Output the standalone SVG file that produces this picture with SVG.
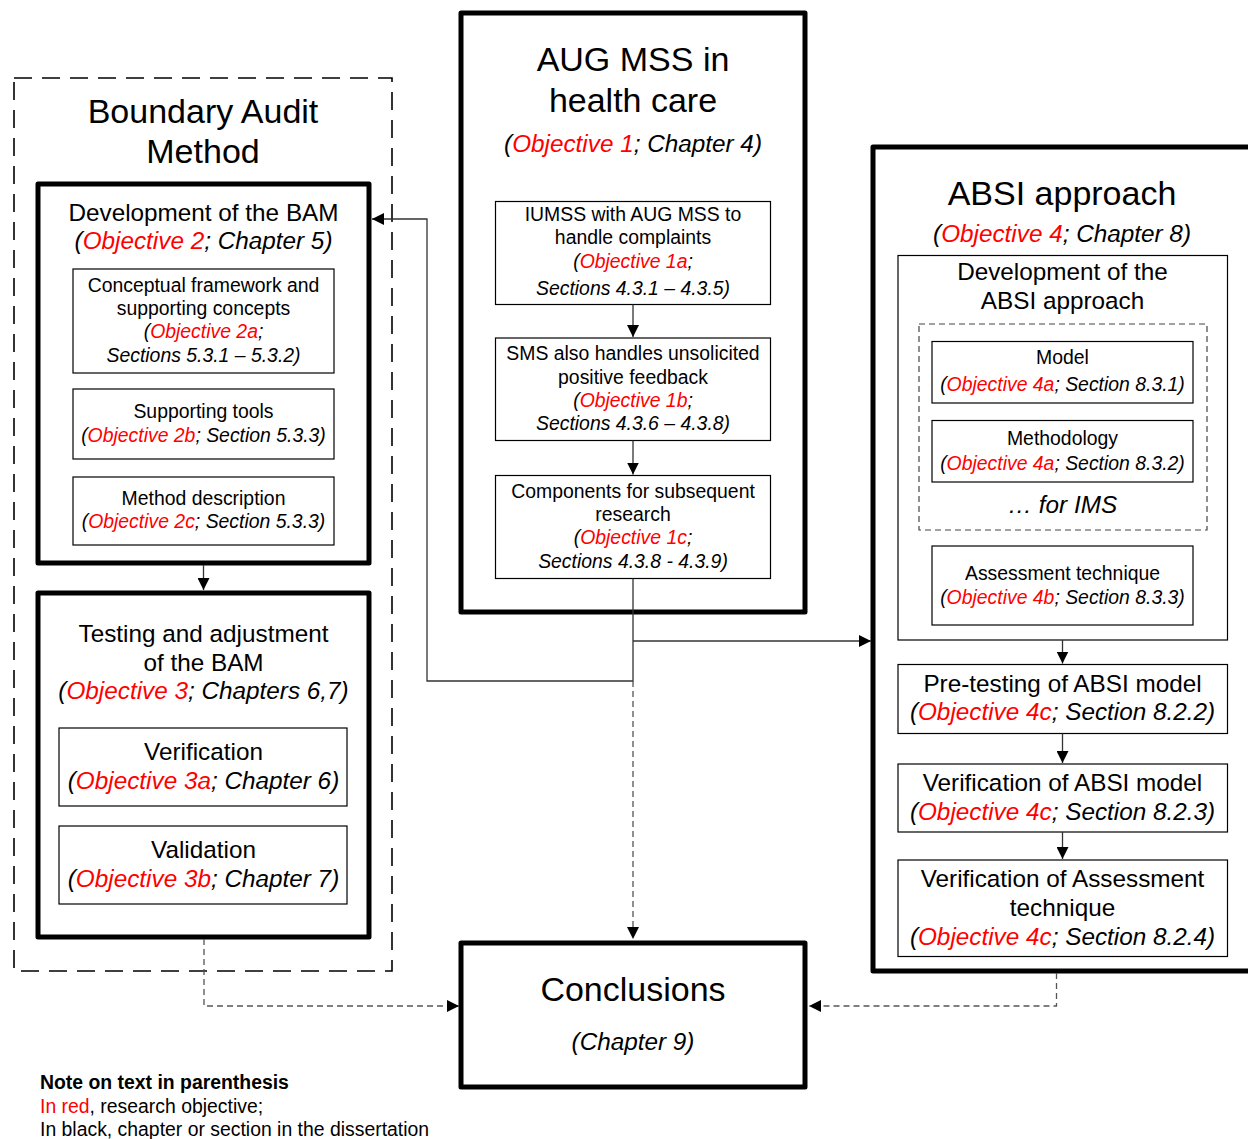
<svg xmlns="http://www.w3.org/2000/svg" width="1248" height="1139" viewBox="0 0 1248 1139">
  <defs>
    <marker id="arrow" viewBox="0 0 10 10" refX="10" refY="5" markerWidth="12" markerHeight="12" markerUnits="userSpaceOnUse" orient="auto">
      <path d="M0,0 L10,5 L0,10 Z" fill="#000"/>
    </marker>
    <style>
      text { font-family: "Liberation Sans", Arial, sans-serif; fill: #000; text-anchor: middle; }
      .big { font-size: 34px; }
      .mid { font-size: 24.3px; }
      .sm { font-size: 19.4px; }
      .it { font-style: italic; }
      .red { fill: #ff0000; }
      .thick { fill: #fff; stroke: #000; stroke-width: 5; stroke-linejoin: round; }
      .thin { fill: #fff; stroke: #000; stroke-width: 1.2; }
      .group { fill: none; stroke: #000; stroke-width: 1.6; stroke-dasharray: 18 10; }
      .subgroup { fill: none; stroke: #444; stroke-width: 1.2; stroke-dasharray: 6 4; }
      .link { fill: none; stroke: #333; stroke-width: 1.3; }
      .dlink { fill: none; stroke: #555; stroke-width: 1.3; stroke-dasharray: 6 4; }
      .note { text-anchor: start; font-size: 19.4px; }
    </style>
  </defs>

  <!-- Boundary Audit Method group -->
  <g id="bam-group">
    <rect class="group" x="14" y="78" width="378" height="893"/>
    <text class="big" x="203" y="123">Boundary Audit</text>
    <text class="big" x="203" y="163">Method</text>
  </g>

  <g id="bam-development">
    <rect class="thick" x="38" y="184" width="331" height="379"/>
    <text class="mid" x="203.5" y="221">Development of the BAM</text>
    <text class="mid it" x="203.5" y="249">(<tspan class="red">Objective 2</tspan>; Chapter 5)</text>
  </g>
  <g id="bam-concepts">
    <rect class="thin" x="73" y="269" width="261" height="104"/>
    <text class="sm" x="203.5" y="292">Conceptual framework and</text>
    <text class="sm" x="203.5" y="315">supporting concepts</text>
    <text class="sm it" x="203.5" y="338">(<tspan class="red">Objective 2a</tspan>;</text>
    <text class="sm it" x="203.5" y="361.5">Sections 5.3.1 – 5.3.2)</text>
  </g>
  <g id="bam-tools">
    <rect class="thin" x="73" y="389" width="261" height="70"/>
    <text class="sm" x="203.5" y="418">Supporting tools</text>
    <text class="sm it" x="203.5" y="442">(<tspan class="red">Objective 2b</tspan>; Section 5.3.3)</text>
  </g>
  <g id="bam-method">
    <rect class="thin" x="73" y="477" width="261" height="68"/>
    <text class="sm" x="203.5" y="505">Method description</text>
    <text class="sm it" x="203.5" y="528">(<tspan class="red">Objective 2c</tspan>; Section 5.3.3)</text>
  </g>

  <g id="bam-testing">
    <rect class="thick" x="38" y="593" width="331" height="344"/>
    <text class="mid" x="203.5" y="642">Testing and adjustment</text>
    <text class="mid" x="203.5" y="671">of the BAM</text>
    <text class="mid it" x="203.5" y="699">(<tspan class="red">Objective 3</tspan>; Chapters 6,7)</text>
  </g>
  <g id="bam-verification">
    <rect class="thin" x="59" y="728" width="288" height="78"/>
    <text class="mid" x="203.5" y="760">Verification</text>
    <text class="mid it" x="203.5" y="789">(<tspan class="red">Objective 3a</tspan>; Chapter 6)</text>
  </g>
  <g id="bam-validation">
    <rect class="thin" x="59" y="826" width="288" height="78"/>
    <text class="mid" x="203.5" y="858">Validation</text>
    <text class="mid it" x="203.5" y="887">(<tspan class="red">Objective 3b</tspan>; Chapter 7)</text>
  </g>

  <!-- AUG MSS in health care -->
  <g id="aug-mss">
    <rect class="thick" x="461" y="13" width="344" height="599"/>
    <text class="big" x="633" y="71">AUG MSS in</text>
    <text class="big" x="633" y="112">health care</text>
    <text class="mid it" x="633" y="151.5">(<tspan class="red">Objective 1</tspan>; Chapter 4)</text>
  </g>
  <g id="iumss">
    <rect class="thin" x="495.5" y="201.5" width="275" height="103"/>
    <text class="sm" x="633" y="221">IUMSS with AUG MSS to</text>
    <text class="sm" x="633" y="244">handle complaints</text>
    <text class="sm it" x="633" y="268">(<tspan class="red">Objective 1a</tspan>;</text>
    <text class="sm it" x="633" y="294.5">Sections 4.3.1 – 4.3.5)</text>
  </g>
  <g id="sms">
    <rect class="thin" x="495.5" y="338" width="275" height="102.5"/>
    <text class="sm" x="633" y="360">SMS also handles unsolicited</text>
    <text class="sm" x="633" y="384">positive feedback</text>
    <text class="sm it" x="633" y="407">(<tspan class="red">Objective 1b</tspan>;</text>
    <text class="sm it" x="633" y="430">Sections 4.3.6 – 4.3.8)</text>
  </g>
  <g id="components">
    <rect class="thin" x="495.5" y="475.5" width="275" height="103"/>
    <text class="sm" x="633" y="498">Components for subsequent</text>
    <text class="sm" x="633" y="521">research</text>
    <text class="sm it" x="633" y="544">(<tspan class="red">Objective 1c</tspan>;</text>
    <text class="sm it" x="633" y="568">Sections 4.3.8 - 4.3.9)</text>
  </g>

  <!-- ABSI approach -->
  <g id="absi">
    <rect class="thick" x="873" y="147" width="400" height="824"/>
    <text class="big" x="1062" y="205">ABSI approach</text>
    <text class="mid it" x="1062" y="241.5">(<tspan class="red">Objective 4</tspan>; Chapter 8)</text>
  </g>
  <g id="absi-development">
    <rect class="thin" x="898" y="255.5" width="329.5" height="384.5"/>
    <text class="mid" x="1062.5" y="280">Development of the</text>
    <text class="mid" x="1062.5" y="309">ABSI approach</text>
    <rect class="subgroup" x="919" y="324" width="288" height="206"/>
    <text class="mid it" x="1062.5" y="513">… for IMS</text>
  </g>
  <g id="absi-model">
    <rect class="thin" x="932" y="341.5" width="261" height="61.5"/>
    <text class="sm" x="1062.5" y="364">Model</text>
    <text class="sm it" x="1062.5" y="390.5">(<tspan class="red">Objective 4a</tspan>; Section 8.3.1)</text>
  </g>
  <g id="absi-methodology">
    <rect class="thin" x="932" y="420.5" width="261" height="61.5"/>
    <text class="sm" x="1062.5" y="445">Methodology</text>
    <text class="sm it" x="1062.5" y="470">(<tspan class="red">Objective 4a</tspan>; Section 8.3.2)</text>
  </g>
  <g id="absi-assessment">
    <rect class="thin" x="932" y="546" width="261" height="79"/>
    <text class="sm" x="1062.5" y="580">Assessment technique</text>
    <text class="sm it" x="1062.5" y="603.5">(<tspan class="red">Objective 4b</tspan>; Section 8.3.3)</text>
  </g>
  <g id="absi-pretesting">
    <rect class="thin" x="898" y="664.5" width="329.5" height="69"/>
    <text class="mid" x="1062.5" y="691.5">Pre-testing of ABSI model</text>
    <text class="mid it" x="1062.5" y="720">(<tspan class="red">Objective 4c</tspan>; Section 8.2.2)</text>
  </g>
  <g id="absi-verification-model">
    <rect class="thin" x="898" y="764" width="329.5" height="68"/>
    <text class="mid" x="1062.5" y="790.5">Verification of ABSI model</text>
    <text class="mid it" x="1062.5" y="820">(<tspan class="red">Objective 4c</tspan>; Section 8.2.3)</text>
  </g>
  <g id="absi-verification-assessment">
    <rect class="thin" x="898" y="860" width="329.5" height="96.5"/>
    <text class="mid" x="1062.5" y="886.5">Verification of Assessment</text>
    <text class="mid" x="1062.5" y="916">technique</text>
    <text class="mid it" x="1062.5" y="945">(<tspan class="red">Objective 4c</tspan>; Section 8.2.4)</text>
  </g>

  <!-- Conclusions -->
  <g id="conclusions">
    <rect class="thick" x="461" y="943" width="344" height="144"/>
    <text x="633" y="1001" style="font-size:34px">Conclusions</text>
    <text class="mid it" x="633" y="1050">(Chapter 9)</text>
  </g>

  <!-- Connectors -->
  <g id="connectors">
    <line class="link" x1="203.5" y1="565" x2="203.5" y2="590" marker-end="url(#arrow)"/>
    <line class="link" x1="633" y1="304.5" x2="633" y2="337" marker-end="url(#arrow)"/>
    <line class="link" x1="633" y1="440.5" x2="633" y2="474.5" marker-end="url(#arrow)"/>
    <polyline class="link" points="633,578.5 633,681 427,681 427,219 372,219" marker-end="url(#arrow)"/>
    <polyline class="link" points="633,641 871,641" marker-end="url(#arrow)"/>
    <line class="dlink" x1="633" y1="681" x2="633" y2="939" marker-end="url(#arrow)"/>
    <line class="link" x1="1062.5" y1="640" x2="1062.5" y2="663.5" marker-end="url(#arrow)"/>
    <line class="link" x1="1062.5" y1="733.5" x2="1062.5" y2="763" marker-end="url(#arrow)"/>
    <line class="link" x1="1062.5" y1="832" x2="1062.5" y2="859" marker-end="url(#arrow)"/>
    <polyline class="dlink" points="204,939 204,1006 459,1006" marker-end="url(#arrow)"/>
    <polyline class="dlink" points="1056.5,973 1056.5,1006 809,1006" marker-end="url(#arrow)"/>
  </g>

  <!-- Legend -->
  <g id="note">
    <text class="note" x="40" y="1089" style="font-weight:bold">Note on text in parenthesis</text>
    <text class="note" x="40" y="1113"><tspan class="red">In red</tspan>, research objective;</text>
    <text class="note" x="40" y="1136">In black, chapter or section in the dissertation</text>
  </g>
</svg>
